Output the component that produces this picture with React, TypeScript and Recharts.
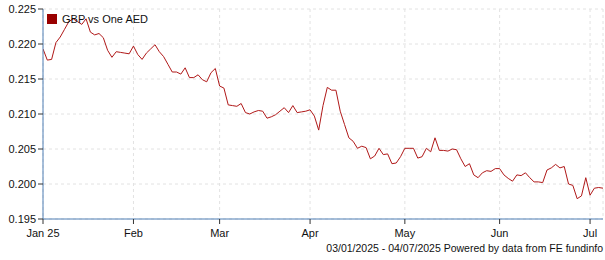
import React from "react";
import { LineChart, Line, XAxis, YAxis, CartesianGrid } from "recharts";

const seriesName = "GBP vs One AED";

// one value per trading day, 03/01/2025 (index 0) .. 04/07/2025 (index 130)
const rates: number[] = [
  0.2193, 0.2177, 0.2178, 0.2202, 0.2210, 0.2221, 0.2232, 0.2236, 0.2232, 0.2228,
  0.2236, 0.2217, 0.2213, 0.2215, 0.2209, 0.2191, 0.2181, 0.2189, 0.2188, 0.2187,
  0.2186, 0.2197, 0.2185, 0.2178, 0.2187, 0.2193, 0.2199, 0.2189, 0.2182, 0.2171,
  0.2160, 0.2160, 0.2157, 0.2166, 0.2152, 0.2152, 0.2156, 0.2149, 0.2146, 0.2159,
  0.2165, 0.2140, 0.2137, 0.2113, 0.2112, 0.2111, 0.2115, 0.2102, 0.2100, 0.2103,
  0.2105, 0.2104, 0.2094, 0.2096, 0.2099, 0.2104, 0.2109, 0.2102, 0.2112, 0.2102,
  0.2103, 0.2104, 0.2106, 0.2097, 0.2077, 0.2112, 0.2138, 0.2134, 0.2134, 0.2104,
  0.2085, 0.2066, 0.2061, 0.2051, 0.2054, 0.2052, 0.2036, 0.2040, 0.2051, 0.2042,
  0.2043, 0.2029, 0.2030, 0.2039, 0.2051, 0.2051, 0.2051, 0.2037, 0.2039, 0.2051,
  0.2046, 0.2066, 0.2048, 0.2048, 0.2047, 0.2050, 0.2049, 0.2036, 0.2025, 0.2029,
  0.2013, 0.2009, 0.2016, 0.2019, 0.2018, 0.2022, 0.2022, 0.2013, 0.2008, 0.2004,
  0.2013, 0.2012, 0.2016, 0.2009, 0.2003, 0.2003, 0.2002, 0.2020, 0.2023, 0.2028,
  0.2023, 0.2025, 0.2000, 0.1998, 0.1979, 0.1983, 0.2009, 0.1984, 0.1994, 0.1995,
  0.1994,
];

const monthTickIdx: number[] = [0, 21, 41, 62, 84, 106, 127];
const monthLabels: string[] = ["Jan 25", "Feb", "Mar", "Apr", "May", "Jun", "Jul"];
const yTicks: number[] = [0.195, 0.2, 0.205, 0.21, 0.215, 0.22, 0.225];
const footerText = "03/01/2025 - 04/07/2025 Powered by data from FE fundinfo";

const data = rates.map((v, i) => ({ i, v }));

const FONT = '"Liberation Sans", Arial, sans-serif';
const AXIS = "#4f7fb5";
const LINE = "#b01818";

export default function App() {
  return (
    <div style={{ position: "absolute", left: 0, top: 0, width: 605, height: 260, background: "#fff" }}>
      <LineChart width={605} height={260} data={data} margin={{ top: 9, right: 2, left: 0, bottom: 21 }}>
        <CartesianGrid stroke="#e2e2e2" strokeDasharray="3 3" />
        <XAxis
          dataKey="i"
          type="number"
          domain={[0, 130]}
          ticks={monthTickIdx}
          tickFormatter={(t: number) => monthLabels[monthTickIdx.indexOf(t)] ?? ""}
          stroke={AXIS}
          tick={{ fill: "#111", fontSize: 11, fontFamily: FONT }}
          tickLine={{ stroke: "#333" }}
          tickSize={5}
          tickMargin={5}
          height={20}
          allowDataOverflow
        />
        <YAxis
          type="number"
          domain={[0.195, 0.225]}
          ticks={yTicks}
          tickFormatter={(t: number) => t.toFixed(3)}
          stroke={AXIS}
          tick={{ fill: "#111", fontSize: 11, fontFamily: FONT }}
          tickLine={{ stroke: "#333" }}
          tickSize={5}
          tickMargin={2}
          width={43}
          allowDataOverflow
        />
        <Line
          type="linear"
          dataKey="v"
          name={seriesName}
          stroke={LINE}
          strokeWidth={1}
          dot={false}
          isAnimationActive={false}
        />
      </LineChart>
      <div
        style={{
          position: "absolute",
          left: 47,
          top: 13,
          display: "flex",
          alignItems: "center",
          fontFamily: FONT,
          fontSize: 11,
          color: "#111",
          whiteSpace: "nowrap",
        }}
      >
        <span style={{ display: "inline-block", width: 10, height: 10, background: "#990000", marginRight: 5 }} />
        <span>{seriesName}</span>
      </div>
      <div
        style={{
          position: "absolute",
          right: 2,
          top: 242,
          fontFamily: FONT,
          fontSize: 10.5,
          color: "#111",
          whiteSpace: "nowrap",
        }}
      >
        {footerText}
      </div>
    </div>
  );
}
